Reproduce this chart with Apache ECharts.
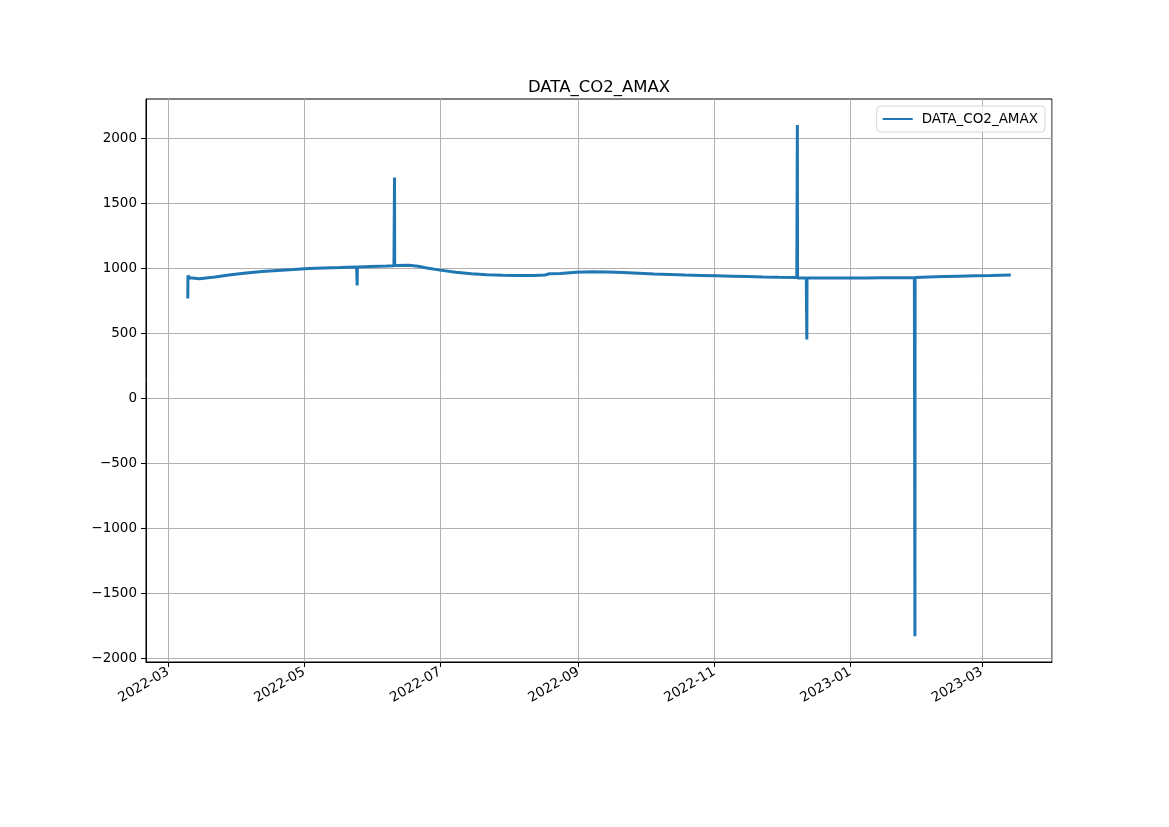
<!DOCTYPE html>
<html><head><meta charset="utf-8">
<script src="https://cdn.jsdelivr.net/npm/echarts@6/dist/echarts.min.js"></script>
<style>html,body{margin:0;padding:0;background:#fff}#c{width:1169px;height:827px}</style>
</head><body><div id="c"></div>
<script>
const seriesName = 'DATA_CO2_AMAX';
const times = [
 '2022-03-09 18:00','2022-03-09 20:00','2022-03-10 12:00','2022-03-11 00:00','2022-03-15','2022-03-22','2022-03-29',
 '2022-04-05','2022-04-12','2022-04-19','2022-04-26','2022-05-03','2022-05-10','2022-05-17',
 '2022-05-24 12:00','2022-05-24 18:00','2022-05-24 20:00','2022-05-31','2022-06-07',
 '2022-06-10 06:00','2022-06-10 12:00','2022-06-10 14:00','2022-06-17','2022-06-21','2022-06-25',
 '2022-07-01','2022-07-08','2022-07-15','2022-07-22','2022-07-29','2022-08-05','2022-08-12',
 '2022-08-17','2022-08-19','2022-08-24','2022-08-31','2022-09-07','2022-09-14','2022-09-21','2022-09-28',
 '2022-10-05','2022-10-12','2022-10-19','2022-10-26','2022-11-02','2022-11-09','2022-11-16','2022-11-23','2022-11-30',
 '2022-12-08 00:00','2022-12-08 06:00','2022-12-08 08:00','2022-12-10',
 '2022-12-12 06:00','2022-12-12 12:00','2022-12-12 14:00','2022-12-18','2022-12-25',
 '2023-01-01','2023-01-08','2023-01-15','2023-01-22',
 '2023-01-29 18:00','2023-01-30 00:00','2023-01-30 02:00',
 '2023-02-05','2023-02-12','2023-02-19','2023-02-26','2023-03-05','2023-03-14'
];
const values = [
 770,946,930,915,922,935,952,
 966,977,985,992,1000,1005,1008,
 1012,870,1012,1016,1020,
 1022,1700,1024,1025,1018,1005,
 988,972,960,952,948,946,947,
 950,960,962,972,976,974,970,964,
 958,954,950,947,944,941,938,935,933,
 932,2105,928,928,
 928,455,928,928,928,
 928,928,929,930,
 930,-1830,932,
 935,938,941,944,946,950
];
const yTicks = [-2000,-1500,-1000,-500,0,500,1000,1500,2000];

const font = 'DejaVu Sans';
const ts = s => new Date(s.replace(' ','T')).getTime();
const data = times.map((t,i)=>[ts(t), values[i]]);
const DAY = 86400000;
const chart = echarts.init(document.getElementById('c'));
chart.setOption({
  animation:false,
  backgroundColor:'#fff',
  title:{text:seriesName,left:594,top:74,textAlign:'center',
    textStyle:{fontFamily:font,fontSize:16.5,fontWeight:'normal',color:'#000'}},
  legend:{data:[{name:seriesName,icon:'rect'}],right:124,top:106,orient:'vertical',
    borderColor:'#d6d6d6',borderWidth:1,borderRadius:4,padding:[6,7,6,6],
    backgroundColor:'rgba(255,255,255,0.8)',itemWidth:30,itemHeight:2,itemGap:10,
    textStyle:{fontFamily:font,fontSize:13.5,color:'#000',padding:[0,0,0,4]}},
  grid:{left:146,top:99,right:117,bottom:165,containLabel:false,show:true,borderColor:'#000',borderWidth:1,backgroundColor:'transparent'},
  xAxis:{type:'time',min:ts('2022-02-19 00:00'),max:ts('2023-04-01 12:00'),
    minInterval:70*DAY,maxInterval:70*DAY,
    axisLine:{show:true,onZero:false,lineStyle:{color:'#000',width:1}},
    axisTick:{show:true,length:5,lineStyle:{color:'#000'}},
    axisLabel:{show:true,rotate:30,margin:9,fontFamily:font,fontSize:13.5,color:'#000',
      showMinLabel:false,showMaxLabel:false,
      formatter:v=>{const d=new Date(v);return d.getFullYear()+'-'+String(d.getMonth()+1).padStart(2,'0');}},
    splitLine:{show:true,lineStyle:{color:'#b0b0b0',width:1}}
  },
  yAxis:{type:'value',min:-2028,max:2305,
    axisLine:{show:true,onZero:false,lineStyle:{color:'#000',width:1}},
    axisTick:{show:true,length:5,lineStyle:{color:'#000'},customValues:yTicks},
    axisLabel:{show:true,margin:9,fontFamily:font,fontSize:13.5,color:'#000',customValues:yTicks,
      formatter:v=>String(v).replace('-','\u2212')},
    splitLine:{show:true,lineStyle:{color:'#b0b0b0',width:1}}
  },
  series:[{name:seriesName,type:'line',data:data,symbol:'none',showSymbol:false,
    lineStyle:{color:'#1f77b4',width:3},itemStyle:{color:'#1f77b4'},z:3}]
});
</script>
</body></html>
